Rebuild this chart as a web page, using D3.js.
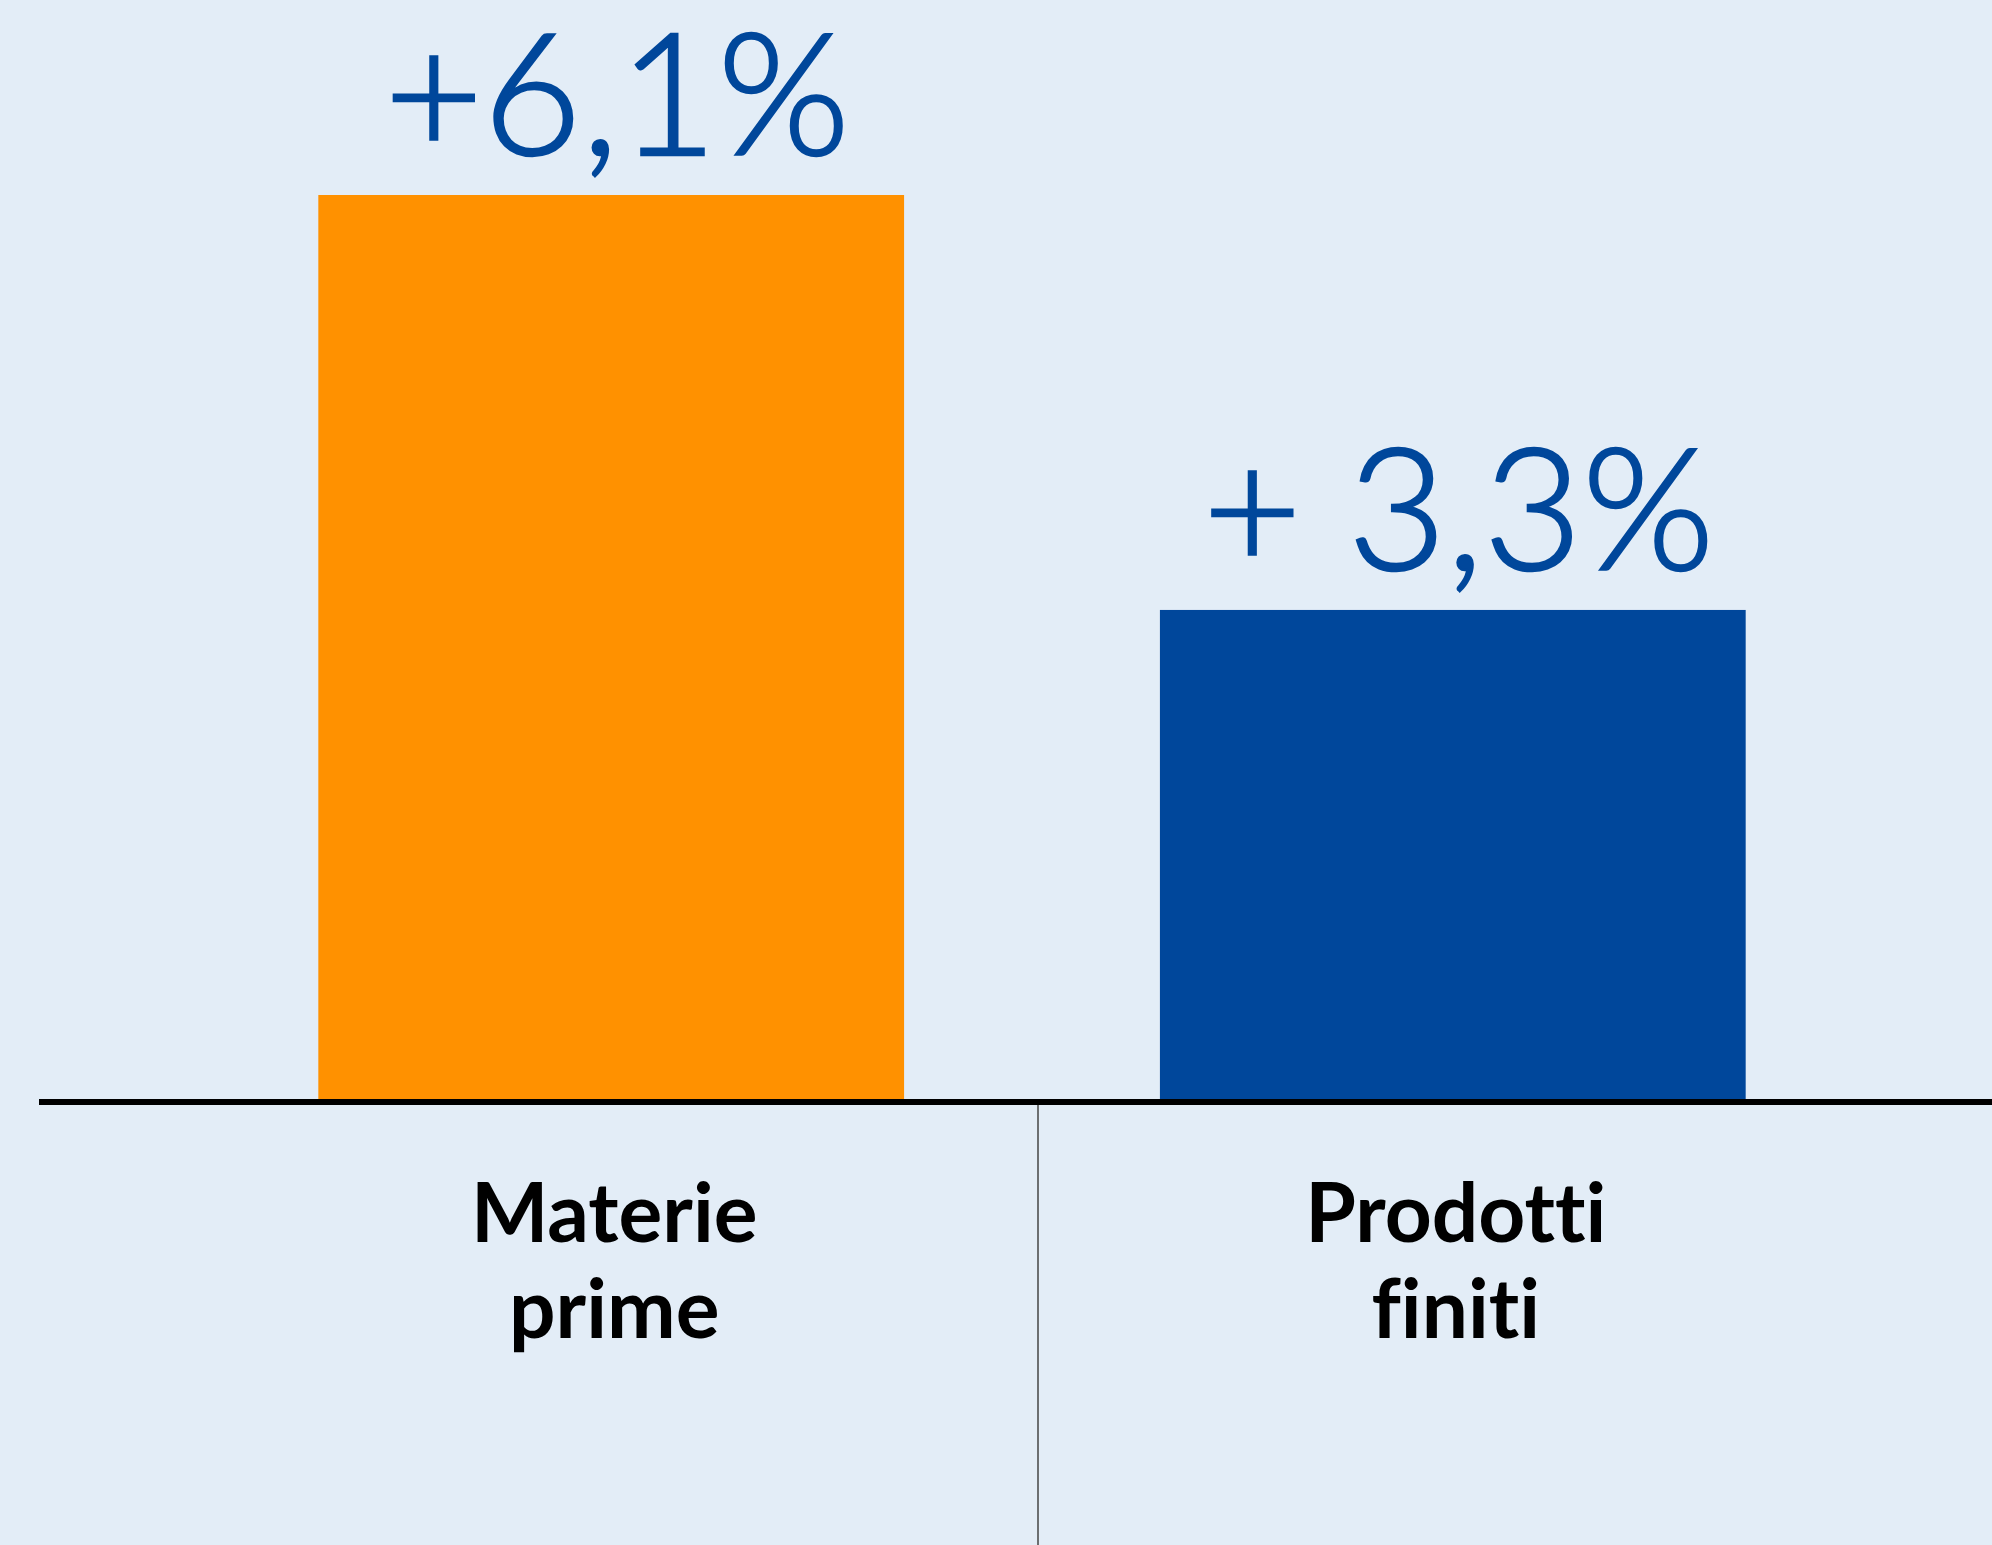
<!DOCTYPE html>
<html>
<head>
<meta charset="utf-8">
<script src="https://cdn.jsdelivr.net/npm/d3@7"></script>
<style>
  html, body { margin: 0; padding: 0; background: #e3edf7; }
  svg { display: block; }
  .cat { font-variant-ligatures: none; font-feature-settings: "liga" 0, "clig" 0; }
</style>
</head>
<body>
<script>
(function () {
  "use strict";
  var categories = ["Materie prime", "Prodotti finiti"],
    labelLines = [["Materie", "prime"], ["Prodotti", "finiti"]],
    values = [6.1, 3.3],
    valueLabels = ["+6,1%", "+ 3,3%"],
    colors = ["#ff9100", "#00479b"],
    width = 1992, height = 1545,
    baseY = 1099, topY = 195,
    svg, x, y;

  svg = d3.select("body").append("svg")
    .attr("width", width)
    .attr("height", height);

  svg.append("rect")
    .attr("width", width)
    .attr("height", height)
    .attr("fill", "#e3edf7");

  x = d3.scaleBand()
    .domain(categories)
    .range([150, 1914])
    .paddingInner(0.304)
    .paddingOuter(0.2);

  y = d3.scaleLinear()
    .domain([0, 6.1])
    .range([baseY, topY]);

  // bars
  svg.selectAll(".bar")
    .data(values)
    .enter().append("rect")
    .attr("class", "bar")
    .attr("x", function (d, i) { return x(categories[i]); })
    .attr("y", function (d) { return y(d); })
    .attr("width", x.bandwidth())
    .attr("height", function (d) { return y(0) - y(d); })
    .attr("fill", function (d, i) { return colors[i]; });

  // value labels (light weight, a thin stroke to thicken it a bit)
  svg.selectAll(".value")
    .data(values)
    .enter().append("text")
    .attr("class", "value")
    .attr("x", function (d, i) { return x(categories[i]) + x.bandwidth() / 2 + 6; })
    .attr("y", function (d) { return y(d) - 40; })
    .attr("text-anchor", "middle")
    .attr("font-family", "Lato, 'Noto Sans', sans-serif")
    .attr("font-weight", 300)
    .attr("font-size", 170)
    .attr("fill", "#00479b")
    .attr("stroke", "#00479b")
    .attr("stroke-width", 2.5)
    .text(function (d, i) { return valueLabels[i]; });

  // baseline
  svg.append("line")
    .attr("x1", 39)
    .attr("x2", width)
    .attr("y1", y(0) + 3)
    .attr("y2", y(0) + 3)
    .attr("stroke", "#000")
    .attr("stroke-width", 6);

  // divider between categories
  var mid = x(categories[1]) - (x.step() - x.bandwidth()) / 2 + 6;
  svg.append("line")
    .attr("x1", mid)
    .attr("x2", mid)
    .attr("y1", y(0) + 6)
    .attr("y2", height)
    .attr("stroke", "#444")
    .attr("stroke-width", 1.5);

  // category labels
  var cat = svg.selectAll(".cat")
    .data(labelLines)
    .enter().append("text")
    .attr("class", "cat")
    .attr("text-anchor", "middle")
    .attr("font-family", "Lato, 'Noto Sans', sans-serif")
    .attr("font-weight", 700)
    .attr("font-size", 82)
    .attr("fill", "#000");

  cat.selectAll("tspan")
    .data(function (d, i) { return d.map(function (t) { return { t: t, i: i }; }); })
    .enter().append("tspan")
    .attr("x", function (d) { return x(categories[d.i]) + x.bandwidth() / 2 + 3; })
    .attr("y", function (d, j) { return 1242 + j * 96; })
    .text(function (d) { return d.t; });
})();
</script>
</body>
</html>
